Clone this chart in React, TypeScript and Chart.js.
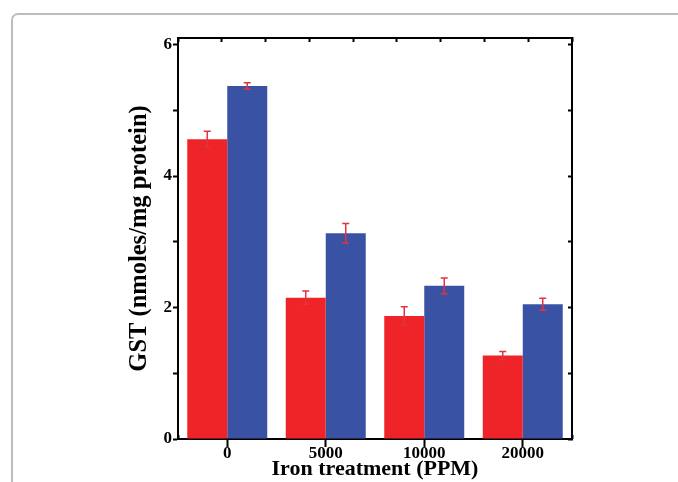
import React, { useEffect, useRef } from "react";
import { Chart, registerables } from "chart.js";

Chart.register(...registerables);

// ---- Data ----
const categories = ["0", "5000", "10000", "20000"];
const series1Values = [4.56, 2.15, 1.87, 1.27];
const series1Errors = [0.12, 0.1, 0.14, 0.06];
const series2Values = [5.37, 3.13, 2.33, 2.05];
const series2Errors = [0.05, 0.15, 0.12, 0.09];
const yMin = 0;
const yMax = 6.1;
const yStep = 1;
const yLabelStep = 2;

const xTitle = "Iron treatment (PPM)";
const yTitle = "GST (nmoles/mg protein)";

const FONT = "'Liberation Serif', 'Times New Roman', Times, serif";
const RED = "#ee2428";
const BLUE = "#3a52a3";
const ERR = "#e4323e";

const errorBarPlugin = {
  id: "errorBars",
  afterDatasetsDraw(chart: any) {
    const ctx = chart.ctx;
    const yScale = chart.scales.y;
    chart.data.datasets.forEach((ds: any, di: number) => {
      const meta = chart.getDatasetMeta(di);
      meta.data.forEach((bar: any, i: number) => {
        const v = ds.data[i];
        const e = ds.errors[i];
        const x = bar.x;
        const yT = yScale.getPixelForValue(v + e);
        const yB = yScale.getPixelForValue(v - e);
        ctx.save();
        ctx.strokeStyle = ERR;
        ctx.lineWidth = 1.5;
        ctx.beginPath();
        ctx.moveTo(x, yT);
        ctx.lineTo(x, yB);
        ctx.moveTo(x - 3.5, yT);
        ctx.lineTo(x + 3.5, yT);
        ctx.moveTo(x - 3.5, yB);
        ctx.lineTo(x + 3.5, yB);
        ctx.stroke();
        ctx.restore();
      });
    });
  },
};

export default function App() {
  const ref = useRef<HTMLCanvasElement>(null);

  useEffect(() => {
    const tickFont = { family: FONT, weight: "bold" as const, size: 17, lineHeight: 1 };
    const xTitleFont = { family: FONT, weight: "bold" as const, size: 22, lineHeight: 1 };
    const yTitleFont = { family: FONT, weight: "bold" as const, size: 24.5, lineHeight: 1 };
    const chart = new Chart(ref.current!, {
      type: "bar",
      data: {
        labels: categories,
        datasets: [
          { label: "Series 1", data: series1Values, errors: series1Errors, backgroundColor: RED, borderWidth: 0, xAxisID: "x", yAxisID: "y" } as any,
          { label: "Series 2", data: series2Values, errors: series2Errors, backgroundColor: BLUE, borderWidth: 0, xAxisID: "x", yAxisID: "y" } as any,
        ],
      },
      plugins: [errorBarPlugin],
      options: {
        responsive: false,
        animation: false,
        layout: { padding: 0 },
        datasets: { bar: { categoryPercentage: 0.812, barPercentage: 1 } },
        plugins: { legend: { display: false }, tooltip: { enabled: false } },
        scales: {
          x: {
            type: "category",
            position: "bottom",
            weight: 1,
            offset: true,
            grid: { offset: false, drawOnChartArea: false, drawTicks: true, tickLength: 8, tickWidth: 2, tickColor: "#000" },
            border: { display: true, width: 2, color: "#000" },
            ticks: { color: "#000", font: tickFont, padding: -2, maxRotation: 0, autoSkip: false },
            title: { display: true, text: xTitle, color: "#000", font: xTitleFont, padding: { top: 0, bottom: 1.5 } },
            afterFit: (s: any) => { s.height = 43; },
          },
          xb: {
            type: "linear",
            position: "bottom",
            weight: 0,
            min: -0.5,
            max: 3.5,
            ticks: { stepSize: 1, display: false },
            grid: { drawOnChartArea: false, drawTicks: true, tickLength: -4, tickWidth: 2, tickColor: "#000" },
            border: { display: false },
            afterFit: (s: any) => { s.height = 0; },
          },
          xt: {
            type: "linear",
            position: "top",
            min: -0.5,
            max: 3.5,
            ticks: { stepSize: 0.5, display: false },
            grid: { drawOnChartArea: false, drawTicks: true, tickLength: -4, tickWidth: 2, tickColor: "#000" },
            border: { display: true, width: 2, color: "#000" },
            afterFit: (s: any) => { s.height = 38; },
          },
          y: {
            type: "linear",
            position: "left",
            min: yMin,
            max: yMax,
            ticks: {
              stepSize: yStep,
              includeBounds: false,
              color: "#000",
              font: tickFont,
              padding: 1,
              callback: (v: any) => (Number(v) % yLabelStep === 0 ? String(v) : ""),
            },
            grid: { drawOnChartArea: false, drawTicks: true, tickLength: 5, tickWidth: 2, tickColor: "#000" },
            border: { display: true, width: 2, color: "#000" },
            title: { display: true, text: yTitle, color: "#000", font: yTitleFont, padding: { top: 127.5, bottom: 0 } },
            afterFit: (s: any) => { s.width = 178; },
          },
          y2: {
            type: "linear",
            position: "right",
            min: yMin,
            max: yMax,
            ticks: { stepSize: yStep, includeBounds: false, display: false },
            grid: { drawOnChartArea: false, drawTicks: true, tickLength: -4, tickWidth: 2, tickColor: "#000" },
            border: { display: true, width: 2, color: "#000" },
            afterFit: (s: any) => { s.width = 106; },
          },
        },
      } as any,
    });
    return () => chart.destroy();
  }, []);

  return (
    <div style={{ position: "absolute", left: 0, top: 0, width: 678, height: 482, overflow: "hidden", background: "#fff" }}>
      <div
        style={{
          position: "absolute",
          left: 11,
          top: 13,
          width: 720,
          height: 560,
          border: "2px solid #bdbdbd",
          borderTopLeftRadius: 7,
          boxSizing: "border-box",
        }}
      />
      <canvas ref={ref} width={678} height={482} style={{ position: "absolute", left: 0, top: 0, width: 678, height: 482 }} />
    </div>
  );
}
